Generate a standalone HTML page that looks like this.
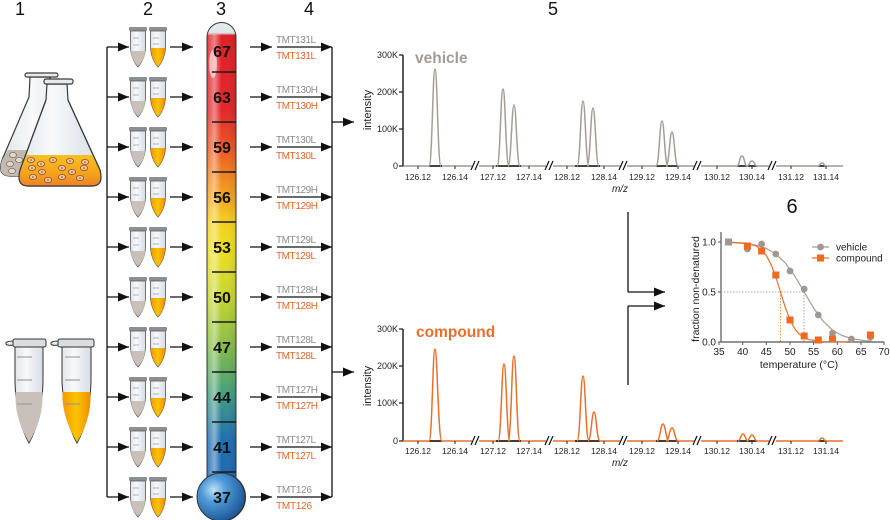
<!DOCTYPE html>
<html><head><meta charset="utf-8"><style>
html,body{margin:0;padding:0;background:#fff;}
svg{display:block;font-family:"Liberation Sans",Arial,sans-serif;}
</style></head><body>
<svg width="890" height="520" viewBox="0 0 890 520" xmlns="http://www.w3.org/2000/svg">
<defs>
<marker id="ah" markerWidth="12" markerHeight="9" refX="11" refY="4.5" orient="auto" markerUnits="userSpaceOnUse">
<path d="M0,0 L11,4.5 L0,9 Z" fill="#111"/></marker>
<linearGradient id="thg" gradientUnits="userSpaceOnUse" x1="0" y1="22" x2="0" y2="520">
<stop offset="0" stop-color="#e6ecef"/><stop offset="0.022" stop-color="#dfe6ea"/>
<stop offset="0.027" stop-color="#e01f26"/><stop offset="0.177" stop-color="#e3262a"/>
<stop offset="0.257" stop-color="#ec5a24"/><stop offset="0.337" stop-color="#f39a1e"/>
<stop offset="0.402" stop-color="#f6d01c"/><stop offset="0.458" stop-color="#ecdf20"/>
<stop offset="0.552" stop-color="#c8d630"/><stop offset="0.653" stop-color="#84bc48"/>
<stop offset="0.753" stop-color="#3f9c82"/><stop offset="0.839" stop-color="#1e6eb4"/>
<stop offset="1" stop-color="#1e64ac"/></linearGradient>
<linearGradient id="hl" x1="0" y1="0" x2="1" y2="0">
<stop offset="0" stop-color="#fff" stop-opacity="0.15"/><stop offset="0.25" stop-color="#fff" stop-opacity="0.45"/>
<stop offset="0.5" stop-color="#fff" stop-opacity="0"/><stop offset="1" stop-color="#000" stop-opacity="0.08"/></linearGradient>
<radialGradient id="bulb" cx="0.35" cy="0.35" r="0.75">
<stop offset="0" stop-color="#bfe0f7"/><stop offset="0.35" stop-color="#4d9ad8"/><stop offset="1" stop-color="#164c8e"/></radialGradient>
<linearGradient id="org" x1="0" y1="0" x2="1" y2="0">
<stop offset="0" stop-color="#f29a00"/><stop offset="0.5" stop-color="#fbc400"/><stop offset="1" stop-color="#f08c00"/></linearGradient>
<linearGradient id="glass" x1="0" y1="0" x2="1" y2="0">
<stop offset="0" stop-color="#dfe6ec"/><stop offset="0.4" stop-color="#f7f9fb"/><stop offset="1" stop-color="#d6dde4"/></linearGradient>
<linearGradient id="fliq" x1="0" y1="0" x2="0" y2="1">
<stop offset="0" stop-color="#f8c020"/><stop offset="0.6" stop-color="#f5a21e"/><stop offset="1" stop-color="#ec8026"/></linearGradient>
<g id="tp">
<rect x="129" y="-20" width="18" height="4" rx="1" fill="#8d9093"/>
<path d="M130.5,-16 L145.5,-16 L145.5,0 Q145,12 138,20 Q131,12 130.5,0 Z" fill="url(#glass)" stroke="#555" stroke-width="0.8"/>
<path d="M130.9,4 L145.1,4 Q144.5,13 138,19.4 Q131.5,13 130.9,4 Z" fill="#c9c1b9"/>
<path d="M133,-9h6 M133,-2h6" stroke="#99a" stroke-width="0.8"/>
<rect x="149" y="-20" width="18" height="4" rx="1" fill="#8d9093"/>
<path d="M150.5,-16 L165.5,-16 L165.5,0 Q165,12 158,20 Q151,12 150.5,0 Z" fill="url(#glass)" stroke="#555" stroke-width="0.8"/>
<path d="M150.9,1 L165.1,1 Q164.5,13 158,19.4 Q151.5,13 150.9,1 Z" fill="url(#org)"/>
<path d="M153,-9h6 M153,-3h6" stroke="#99a" stroke-width="0.8"/>
</g>
</defs>
<rect width="890" height="520" fill="#fff"/>

<!-- header numbers -->
<g font-size="18" fill="#111" text-anchor="middle">
<text x="20" y="15">1</text><text x="148" y="15">2</text><text x="221" y="15">3</text>
<text x="309" y="15">4</text><text x="553" y="15">5</text><text x="792" y="213" font-size="20">6</text>
</g>

<!-- flasks -->
<g stroke="#3a3a3a" stroke-width="1.2">
<path d="M30,77 L50,77 L51,97 L78,160 Q82,176 68,176 L10,176 Q-3,176 2,160 L29,97 Z" fill="url(#glass)"/>
<rect x="25" y="73" width="33" height="4" rx="2" fill="#e6ebef"/>
<path d="M8,150 L72,150 L78,160 Q82,176 68,176 L10,176 Q-3,176 2,160 Z" fill="#c3b9af" stroke="none"/>
</g>
<g fill="#e2d9d0" stroke="#7a706a" stroke-width="0.8">
<ellipse cx="13" cy="155" rx="3.5" ry="2.6"/><ellipse cx="10" cy="164" rx="3.5" ry="2.6"/>
<ellipse cx="19" cy="160" rx="3.5" ry="2.6"/><ellipse cx="12" cy="171" rx="3.5" ry="2.6"/>
</g>
<g stroke="#3a3a3a" stroke-width="1.2">
<path d="M47,84 L67,84 L68,100 L100,170 Q104,186 92,186 L28,186 Q16,186 20,170 L46,100 Z" fill="url(#glass)"/>
<rect x="44" y="79" width="29" height="5" rx="2" fill="#e6ebef"/>
<path d="M25.6,155 L93.1,155 L100,170 Q104,186 92,186 L28,186 Q16,186 20,170 Z" fill="url(#fliq)" stroke="none"/>
<path d="M46,100 L20,170 Q16,186 28,186 L92,186 Q104,186 100,170 L68,100" fill="none"/>
</g>
<g fill="#f4c49a" stroke="#8a4e2a" stroke-width="0.8">
<ellipse cx="31" cy="160" rx="3.6" ry="2.6"/><ellipse cx="41" cy="164" rx="3.6" ry="2.6"/><ellipse cx="53" cy="160" rx="3.6" ry="2.6"/>
<ellipse cx="70" cy="161" rx="3.6" ry="2.6"/><ellipse cx="85" cy="162" rx="3.6" ry="2.6"/><ellipse cx="32" cy="168" rx="3.6" ry="2.6"/>
<ellipse cx="42" cy="172" rx="3.6" ry="2.6"/><ellipse cx="62" cy="168" rx="3.6" ry="2.6"/><ellipse cx="72" cy="172" rx="3.6" ry="2.6"/>
<ellipse cx="84" cy="168" rx="3.6" ry="2.6"/><ellipse cx="33" cy="177" rx="3.6" ry="2.6"/><ellipse cx="48" cy="180" rx="3.6" ry="2.6"/>
<ellipse cx="62" cy="177" rx="3.6" ry="2.6"/><ellipse cx="80" cy="178" rx="3.6" ry="2.6"/>
</g>
<g fill="#7a4a2a">
<circle cx="31" cy="160" r="0.8"/><circle cx="41" cy="164" r="0.8"/><circle cx="53" cy="160" r="0.8"/><circle cx="70" cy="161" r="0.8"/>
<circle cx="85" cy="162" r="0.8"/><circle cx="32" cy="168" r="0.8"/><circle cx="42" cy="172" r="0.8"/><circle cx="62" cy="168" r="0.8"/>
<circle cx="72" cy="172" r="0.8"/><circle cx="84" cy="168" r="0.8"/><circle cx="33" cy="177" r="0.8"/><circle cx="48" cy="180" r="0.8"/>
<circle cx="62" cy="177" r="0.8"/><circle cx="80" cy="178" r="0.8"/>
</g>

<!-- big tubes -->
<g stroke="#333" stroke-width="1">
<path d="M14,341 Q5,341 6,344 Q7,346 14,345" fill="#e6ebef"/>
<rect x="13" y="339" width="33" height="8" rx="2" fill="#d9dee2"/>
<path d="M15,347 L43,347 L43,382 Q42,420 29,443 Q16,420 15,382 Z" fill="url(#glass)"/>
<path d="M15.5,392 L42.5,392 L42.5,400 Q41.6,422 29,442 Q16.4,422 15.5,400 Z" fill="#c9c1b9" stroke="none"/>
<path d="M17,357h15 M17,380h15 M17,404h15" stroke="#8e9296" stroke-width="1"/>
<path d="M59,341 Q50,341 51,344 Q52,346 59,345" fill="#e6ebef"/>
<rect x="58" y="339" width="36" height="8" rx="2" fill="#d9dee2"/>
<path d="M62,347 L91,347 L91,382 Q90,420 77,443 Q64,420 62,382 Z" fill="url(#glass)"/>
<path d="M62.5,392 L90.5,392 L90.5,400 Q89.6,422 77,442 Q64.4,422 62.5,400 Z" fill="url(#org)" stroke="none"/>
<path d="M65,357h15 M65,380h15 M65,404h15" stroke="#8e9296" stroke-width="1"/>
</g>

<!-- bracket 1 -> 2 and arrows -->
<g stroke="#111" stroke-width="1.3" marker-end="url(#ah)">
<line x1="107" y1="47" x2="129" y2="47"/><line x1="107" y1="97" x2="129" y2="97"/><line x1="107" y1="147" x2="129" y2="147"/>
<line x1="107" y1="197" x2="129" y2="197"/><line x1="107" y1="247" x2="129" y2="247"/><line x1="107" y1="297" x2="129" y2="297"/>
<line x1="107" y1="347" x2="129" y2="347"/><line x1="107" y1="397" x2="129" y2="397"/><line x1="107" y1="447" x2="129" y2="447"/>
<line x1="107" y1="497" x2="129" y2="497"/>
<line x1="170" y1="47" x2="193" y2="47"/><line x1="170" y1="97" x2="193" y2="97"/><line x1="170" y1="147" x2="193" y2="147"/>
<line x1="170" y1="197" x2="193" y2="197"/><line x1="170" y1="247" x2="193" y2="247"/><line x1="170" y1="297" x2="193" y2="297"/>
<line x1="170" y1="347" x2="193" y2="347"/><line x1="170" y1="397" x2="193" y2="397"/><line x1="170" y1="447" x2="193" y2="447"/>
<line x1="170" y1="497" x2="193" y2="497"/>
<line x1="250" y1="47" x2="272" y2="47"/><line x1="250" y1="97" x2="272" y2="97"/><line x1="250" y1="147" x2="272" y2="147"/>
<line x1="250" y1="197" x2="272" y2="197"/><line x1="250" y1="247" x2="272" y2="247"/><line x1="250" y1="297" x2="272" y2="297"/>
<line x1="250" y1="347" x2="272" y2="347"/><line x1="250" y1="397" x2="272" y2="397"/><line x1="250" y1="447" x2="272" y2="447"/>
<line x1="250" y1="497" x2="272" y2="497"/>
<line x1="277" y1="47" x2="332" y2="47"/><line x1="277" y1="97" x2="332" y2="97"/><line x1="277" y1="147" x2="332" y2="147"/>
<line x1="277" y1="197" x2="332" y2="197"/><line x1="277" y1="247" x2="332" y2="247"/><line x1="277" y1="297" x2="332" y2="297"/>
<line x1="277" y1="347" x2="332" y2="347"/><line x1="277" y1="397" x2="332" y2="397"/><line x1="277" y1="447" x2="332" y2="447"/>
<line x1="277" y1="497" x2="332" y2="497"/>
<line x1="332" y1="122" x2="354" y2="122"/><line x1="332" y1="372" x2="354" y2="372"/>
<line x1="628" y1="292" x2="665" y2="292"/><line x1="628" y1="306" x2="665" y2="306"/>
</g>
<path d="M107,47 V497 M332,47 V497 M628,212 V292 M628,306 V385" stroke="#111" stroke-width="1.3" fill="none"/>

<!-- small tubes -->
<use href="#tp" y="47"/><use href="#tp" y="97"/><use href="#tp" y="147"/><use href="#tp" y="197"/><use href="#tp" y="247"/>
<use href="#tp" y="297"/><use href="#tp" y="347"/><use href="#tp" y="397"/><use href="#tp" y="447"/><use href="#tp" y="497"/>

<!-- thermometer -->
<path d="M207,37 A14.5,14.5 0 0 1 236,37 L236,478 A24,24 0 1 1 207,478 Z" fill="url(#thg)" stroke="#333" stroke-width="1"/>
<rect x="207.5" y="34" width="28" height="442" fill="url(#hl)"/>
<ellipse cx="213" cy="64" rx="4" ry="14" fill="#fff" opacity="0.55"/>
<circle cx="221" cy="497" r="24" fill="url(#bulb)" stroke="#333" stroke-width="1"/>
<path d="M212,72h24 M212,122h24 M212,172h24 M212,222h24 M212,272h24 M212,322h24 M212,372h24 M212,422h24 M212,472h24" stroke="#1a1a1a" stroke-width="1.4"/>
<g font-size="16" font-weight="bold" fill="#111" text-anchor="middle">
<text x="222" y="57">67</text><text x="222" y="103">63</text><text x="222" y="153">59</text><text x="222" y="203">56</text>
<text x="222" y="253">53</text><text x="222" y="303">50</text><text x="222" y="353">47</text><text x="222" y="403">44</text>
<text x="222" y="453">41</text><text x="222" y="503">37</text>
</g>

<!-- TMT labels -->
<g font-size="10" fill="#8c8c8c">
<text x="276" y="43" textLength="40">TMT131L</text><text x="276" y="93" textLength="42">TMT130H</text>
<text x="276" y="143" textLength="40">TMT130L</text><text x="276" y="193" textLength="42">TMT129H</text>
<text x="276" y="243" textLength="40">TMT129L</text><text x="276" y="293" textLength="42">TMT128H</text>
<text x="276" y="343" textLength="40">TMT128L</text><text x="276" y="393" textLength="42">TMT127H</text>
<text x="276" y="443" textLength="40">TMT127L</text><text x="276" y="493" textLength="36">TMT126</text>
</g>
<g font-size="10" fill="#e0662a">
<text x="276" y="59" textLength="40">TMT131L</text><text x="276" y="109" textLength="42">TMT130H</text>
<text x="276" y="159" textLength="40">TMT130L</text><text x="276" y="209" textLength="42">TMT129H</text>
<text x="276" y="259" textLength="40">TMT129L</text><text x="276" y="309" textLength="42">TMT128H</text>
<text x="276" y="359" textLength="40">TMT128L</text><text x="276" y="409" textLength="42">TMT127H</text>
<text x="276" y="459" textLength="40">TMT127L</text><text x="276" y="509" textLength="36">TMT126</text>
</g>

<!-- vehicle chart -->
<text x="415" y="63" font-size="15.5" font-weight="bold" fill="#a39b93">vehicle</text>
<path d="M403,55 V166" stroke="#222" stroke-width="1.5"/>
<path d="M399,55h4 M399,92h4 M399,129h4 M399,166h4" stroke="#222" stroke-width="1.2"/>
<g font-size="9" fill="#222" text-anchor="end">
<text x="398" y="58">300K</text><text x="398" y="95">200K</text><text x="398" y="132">100K</text><text x="398" y="169">0</text>
</g>
<text transform="translate(371,110) rotate(-90)" font-size="11" fill="#222" text-anchor="middle">intensity</text>
<path d="M403,166 H843" stroke="#8a837c" stroke-width="1.3"/>
<path d="M429,166h13 M496,166h25 M575,166h25 M656,166h22 M737,166h20 M818,166h8" stroke="#111" stroke-width="1.6"/>
<path d="M418,166v3 M455,166v3 M493,166v3 M529,166v3 M567,166v3 M604,166v3 M642,166v3 M678,166v3 M717,166v3 M752,166v3 M791,166v3 M826,166v3" stroke="#222" stroke-width="1"/>
<g fill="none" stroke="#a59d95" stroke-width="1.5">
<path d="M429,166 C432.3,166 432.6,69 435,69 C437.4,69 437.7,166 441,166"/>
<path d="M497,166 C500.3,166 500.6,89 503,89 C505.4,89 505.7,166 509,166"/>
<path d="M508,166 C511.3,166 511.6,105 514,105 C516.4,105 516.7,166 520,166"/>
<path d="M577,166 C580.3,166 580.6,101 583,101 C585.4,101 585.7,166 589,166"/>
<path d="M587,166 C590.3,166 590.6,108 593,108 C595.4,108 595.7,166 599,166"/>
<path d="M656,166 C659.3,166 659.6,121 662,121 C664.4,121 664.7,166 668,166"/>
<path d="M666,166 C669.3,166 669.6,132 672,132 C674.4,132 674.7,166 678,166"/>
<path d="M737,166 C739.5,166 739.5,156 742,156 C744.5,156 744.5,166 747,166"/>
<path d="M747,166 C749.5,166 749.5,161 752,161 C754.5,161 754.5,166 757,166"/>
<path d="M818,166 C820,166 820,163 822,163 C824,163 824,166 826,166"/>
</g>
<g fill="#fff"><rect x="472" y="162" width="7" height="8"/><rect x="546" y="162" width="7" height="8"/><rect x="620" y="162" width="7" height="8"/><rect x="694" y="162" width="7" height="8"/><rect x="769" y="162" width="7" height="8"/></g>
<path d="M471,170 L475,161 M475,170 L479,161 M545,170 L549,161 M549,170 L553,161 M619,170 L623,161 M623,170 L627,161 M693,170 L697,161 M697,170 L701,161 M768,170 L772,161 M772,170 L776,161" stroke="#111" stroke-width="1.2"/>
<g font-size="8.5" fill="#222" text-anchor="middle">
<text x="418" y="180">126.12</text><text x="455" y="180">126.14</text><text x="493" y="180">127.12</text><text x="529" y="180">127.14</text>
<text x="567" y="180">128.12</text><text x="604" y="180">128.14</text><text x="642" y="180">129.12</text><text x="678" y="180">129.14</text>
<text x="717" y="180">130.12</text><text x="752" y="180">130.14</text><text x="791" y="180">131.12</text><text x="826" y="180">131.14</text>
</g>
<text x="620" y="192" font-size="10" font-style="italic" fill="#222" text-anchor="middle">m/z</text>

<!-- compound chart -->
<text x="416" y="337" font-size="15.5" font-weight="bold" fill="#e8702a">compound</text>
<path d="M403,329 V441" stroke="#222" stroke-width="1.5"/>
<path d="M399,329h4 M399,366h4 M399,403h4 M399,441h4" stroke="#222" stroke-width="1.2"/>
<g font-size="9" fill="#222" text-anchor="end">
<text x="398" y="332">300K</text><text x="398" y="369">200K</text><text x="398" y="406">100K</text><text x="398" y="444">0</text>
</g>
<text transform="translate(371,386) rotate(-90)" font-size="11" fill="#222" text-anchor="middle">intensity</text>
<path d="M403,441 H843" stroke="#e8702a" stroke-width="1.6"/>
<path d="M429,441h13 M496,441h25 M575,441h25 M656,441h22 M737,441h20 M818,441h8" stroke="#111" stroke-width="1.6"/>
<path d="M418,441v3 M455,441v3 M493,441v3 M529,441v3 M567,441v3 M604,441v3 M642,441v3 M678,441v3 M717,441v3 M752,441v3 M791,441v3 M826,441v3" stroke="#222" stroke-width="1"/>
<g fill="none" stroke="#e8702a" stroke-width="1.5">
<path d="M429,441 C432.3,441 432.6,349 435,349 C437.4,349 438,441 442,441"/>
<path d="M498,441 C501.3,441 501.6,364 504,364 C506.4,364 506.7,441 510,441"/>
<path d="M508,441 C511.3,441 511.6,356 514,356 C516.4,356 516.7,441 520,441"/>
<path d="M577,441 C580.3,441 580.6,376 583,376 C585.4,376 585.7,441 589,441"/>
<path d="M588,441 C591.3,441 591.6,412 594,412 C596.4,412 596.7,441 600,441"/>
<path d="M657,441 C660,441 660.5,424 663,424 C665.5,424 666,441 669,441"/>
<path d="M666,441 C669,441 669.5,428 672,428 C674.5,428 675,441 678,441"/>
<path d="M738,441 C740.5,441 740.5,434 743,434 C745.5,434 745.5,441 748,441"/>
<path d="M747,441 C749.5,441 749.5,435 752,435 C754.5,435 754.5,441 757,441"/>
<path d="M818,441 C820,441 820,438 822,438 C824,438 824,441 826,441"/>
</g>
<g fill="#fff"><rect x="472" y="437" width="7" height="8"/><rect x="546" y="437" width="7" height="8"/><rect x="620" y="437" width="7" height="8"/><rect x="694" y="437" width="7" height="8"/><rect x="769" y="437" width="7" height="8"/></g>
<path d="M471,445 L475,436 M475,445 L479,436 M545,445 L549,436 M549,445 L553,436 M619,445 L623,436 M623,445 L627,436 M693,445 L697,436 M697,445 L701,436 M768,445 L772,436 M772,445 L776,436" stroke="#111" stroke-width="1.2"/>
<g font-size="8.5" fill="#222" text-anchor="middle">
<text x="418" y="454">126.12</text><text x="455" y="454">126.14</text><text x="493" y="454">127.12</text><text x="529" y="454">127.14</text>
<text x="567" y="454">128.12</text><text x="604" y="454">128.14</text><text x="642" y="454">129.12</text><text x="678" y="454">129.14</text>
<text x="717" y="454">130.12</text><text x="752" y="454">130.14</text><text x="791" y="454">131.12</text><text x="826" y="454">131.14</text>
</g>
<text x="620" y="466" font-size="10" font-style="italic" fill="#222" text-anchor="middle">m/z</text>

<!-- inset chart 6 -->
<path d="M721,232 V342 H884" stroke="#555" stroke-width="1.2" fill="none"/>
<path d="M718,242h3 M718,292h3 M718,342h3" stroke="#555" stroke-width="1"/>
<path d="M719,342v3 M742.7,342v3 M766.3,342v3 M790,342v3 M813.6,342v3 M837.3,342v3 M861,342v3 M884,342v3" stroke="#555" stroke-width="1"/>
<g font-size="10" fill="#222" text-anchor="end">
<text x="716" y="245.5">1.0</text><text x="716" y="295.5">0.5</text><text x="716" y="345.5">0.0</text>
</g>
<g font-size="10" fill="#222" text-anchor="middle">
<text x="719" y="355">35</text><text x="742.7" y="355">40</text><text x="766.3" y="355">45</text><text x="790" y="355">50</text>
<text x="813.6" y="355">55</text><text x="837.3" y="355">60</text><text x="861" y="355">65</text><text x="884" y="355">70</text>
</g>
<text x="799" y="368" font-size="10.5" fill="#222" text-anchor="middle">temperature (°C)</text>
<text transform="translate(699,289) rotate(-90)" font-size="10.5" fill="#222" text-anchor="middle">fraction non-denatured</text>
<path d="M721,292 H804" stroke="#aaa" stroke-width="0.9" stroke-dasharray="1.5,1.5"/>
<path d="M804,292 V342" stroke="#999" stroke-width="0.9" stroke-dasharray="1.5,1.5"/>
<path d="M780.5,292 V342" stroke="#e8902a" stroke-width="0.9" stroke-dasharray="1.5,1.5"/>
<path d="M728.5,242.5 L742.7,243.3 L756.8,245.4 L766.3,248.5 L775.8,253.9 L785.2,262.9 L794.7,275.9 L804.2,292 L813.6,308.1 L823.1,321.1 L832.5,330.1 L842,335.5 L851.4,338.6 L865.6,340.7 L872,341.2" fill="none" stroke="#a59d95" stroke-width="1.2" stroke-linejoin="round"/>
<path d="M728.5,242.1 L747.4,243.2 L756.8,246.2 L766.3,255.3 L771,264.3 L775.8,276.9 L780.5,292 L785.2,307.1 L789.9,319.7 L794.7,328.7 L799.4,334.4 L808.9,339.7 L823.1,341.6 L846.7,342" fill="none" stroke="#e8702a" stroke-width="1.2" stroke-linejoin="round"/>
<g fill="#a0978f">
<circle cx="747.4" cy="249" r="3.4"/><circle cx="761.6" cy="244" r="3.4"/><circle cx="775.8" cy="254" r="3.4"/>
<circle cx="790" cy="271" r="3.4"/><circle cx="804.2" cy="289" r="3.4"/><circle cx="818.3" cy="315" r="3.4"/>
<circle cx="832.5" cy="333" r="3.4"/><circle cx="851.4" cy="339" r="3.4"/><circle cx="870.4" cy="337" r="3.4"/>
</g>
<g fill="#ee6a22">
<rect x="725" y="238.5" width="7" height="7" fill="#a0978f"/>
<rect x="743.9" y="242.5" width="7" height="7"/><rect x="758.1" y="247.5" width="7" height="7"/><rect x="772.3" y="271.5" width="7" height="7"/>
<rect x="786.5" y="316.5" width="7" height="7"/><rect x="800.7" y="332.5" width="7" height="7"/><rect x="814.8" y="336.5" width="7" height="7"/>
<rect x="829" y="335.5" width="7" height="7"/><rect x="866.9" y="331.5" width="7" height="7"/>
</g>
<path d="M812,247h17" stroke="#a59d95" stroke-width="1.2"/><circle cx="820.5" cy="247" r="3.4" fill="#a0978f"/>
<path d="M812,258h17" stroke="#e8702a" stroke-width="1.2"/><rect x="817" y="254.5" width="7" height="7" fill="#ee6a22"/>
<text x="836" y="250.5" font-size="10" fill="#222">vehicle</text>
<text x="836" y="261.5" font-size="10" fill="#222">compound</text>
</svg>
</body></html>
